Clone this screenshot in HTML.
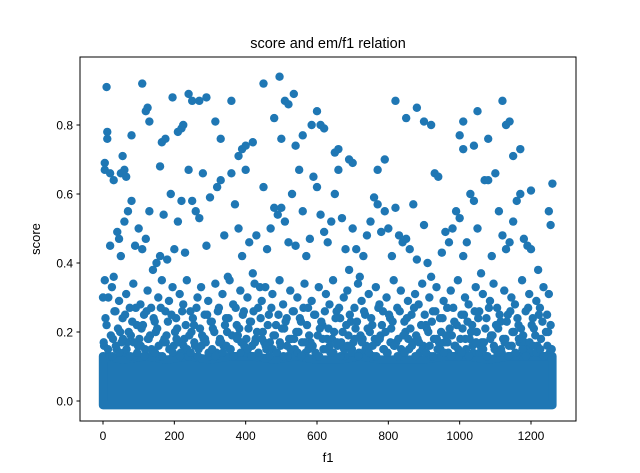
<!DOCTYPE html>
<html><head><meta charset="utf-8"><style>
html,body{margin:0;padding:0;background:#fff;}
svg{display:block;font-family:"Liberation Sans","DejaVu Sans",sans-serif;}
</style></head><body>
<svg id="chart" width="640" height="473">
<text x="328" y="48" text-anchor="middle" font-size="14.5">score and em/f1 relation</text>
<g id="band"></g>
<g id="pts"></g>
<rect x="80" y="57" width="496" height="364" fill="none" stroke="#000" stroke-width="1"/>
<g id="axes"></g>
<text x="328" y="462" text-anchor="middle" font-size="13">f1</text>
<text transform="translate(40,239) rotate(-90)" text-anchor="middle" font-size="13">score</text>
</svg>
<script>
const xTicks=[0,200,400,600,800,1000,1200];
const yTicks=[0.0,0.2,0.4,0.6,0.8];
const bandX=[0,60,120,180,240,300,360,420,480,540,600,660,720,780,840,900,960,1020,1080,1140,1200,1260];
const bandTop=[0.13,0.12,0.13,0.12,0.13,0.12,0.13,0.13,0.12,0.13,0.12,0.12,0.13,0.12,0.12,0.12,0.13,0.13,0.12,0.13,0.13,0.13];
const px=[5,5,10,12,12,20,30,50,55,60,65,80,110,120,125,130,160,165,175,195,210,220,225,240,250,270,290,315,330,360,380,390,400,420,450,480,495,500,510,520,535,540,560,585,600,610,620,650,660,690,700,770,790,820,850,880,900,920,1000,1010,1010,1040,1050,1080,1120,1130,1140,1150,1170,1200,1260,1250,1255,
5,15,20,30,40,45,50,60,70,80,90,100,110,120,130,140,150,160,170,180,190,200,210,220,230,240,250,260,270,280,290,300,320,330,340,350,360,370,380,390,400,410,420,430,440,450,460,470,480,490,500,510,520,530,540,550,560,570,580,590,600,610,620,630,640,650,660,670,680,690,700,710,720,730,740,750,760,770,780,790,800,810,820,830,840,850,860,870,880,900,910,920,930,940,950,960,970,980,990,1000,1010,1020,1030,1040,1050,1060,1070,1080,1090,1100,1110,1120,1130,1140,1150,1160,1170,1180,1190,1200,1220,1250,
0,10,25,35,45,55,65,75,85,95,105,115,125,135,145,155,165,175,185,195,205,215,225,235,245,255,265,275,285,295,305,315,325,335,345,355,365,375,385,395,405,415,425,435,445,455,465,475,485,495,505,515,525,535,545,555,565,575,585,595,605,615,625,635,645,655,665,675,685,695,705,715,725,735,745,755,765,775,785,795,805,815,825,835,845,855,865,875,885,895,905,915,925,935,945,955,965,975,985,995,1005,1015,1025,1035,1045,1055,1065,1075,1085,1095,1105,1115,1125,1135,1145,1155,1165,1175,1185,1195,1205,1215,1225,1235,1245,1255,
3,18,28,38,48,58,68,78,88,98,108,118,128,138,148,158,168,178,188,198,208,218,228,238,248,258,268,278,288,298,308,318,328,338,348,358,368,378,388,398,408,418,428,438,448,458,468,478,488,498,508,518,528,538,548,558,568,578,588,598,608,618,628,638,648,658,668,678,688,698,708,718,728,738,748,758,768,778,788,798,808,818,828,838,848,858,868,878,888,898,908,918,928,938,948,958,968,978,988,998,1008,1018,1028,1038,1048,1058,1068,1078,1088,1098,1108,1118,1128,1138,1148,1158,1168,1178,1188,1198,1208,1218,1228,1238,1248,1258,
7,22,32,42,52,62,72,82,92,102,112,122,132,142,152,162,172,182,192,202,212,222,232,242,252,262,272,282,292,302,312,322,332,342,352,362,372,382,392,402,412,422,432,442,452,462,472,482,492,502,512,522,532,542,552,562,572,582,592,602,612,622,632,642,652,662,672,682,692,702,712,722,732,742,752,762,772,782,792,802,812,822,832,842,852,862,872,882,892,902,912,922,932,942,952,962,972,982,992,1002,1012,1022,1032,1042,1052,1062,1072,1082,1092,1102,1112,1122,1132,1142,1152,1162,1172,1182,1192,1202,1212,1222,1232,1242,1252,
2,14,26,36,46,56,66,76,86,96,106,116,126,136,146,156,166,176,186,196,206,216,226,236,246,256,266,276,286,296,306,316,326,336,346,356,366,376,386,396,406,416,426,436,446,456,466,476,486,496,506,516,526,536,546,556,566,576,586,596,606,616,626,636,646,656,666,676,686,696,706,716,726,736,746,756,766,776,786,796,806,816,826,836,846,856,866,876,886,896,906,916,926,936,946,956,966,976,986,996,1006,1016,1026,1036,1046,1056,1066,1076,1086,1096,1106,1116,1126,1136,1146,1156,1166,1176,1186,1196,1206,1216,1226,1236,1246,1256];
const py=[0.69,0.67,0.91,0.78,0.76,0.66,0.64,0.66,0.71,0.67,0.65,0.77,0.92,0.84,0.85,0.81,0.68,0.75,0.76,0.88,0.78,0.79,0.8,0.89,0.87,0.87,0.88,0.81,0.76,0.87,0.71,0.73,0.74,0.75,0.92,0.82,0.94,0.76,0.87,0.86,0.89,0.74,0.77,0.8,0.84,0.8,0.79,0.72,0.73,0.7,0.69,0.67,0.7,0.87,0.82,0.85,0.81,0.8,0.77,0.81,0.73,0.74,0.84,0.76,0.87,0.8,0.81,0.71,0.73,0.61,0.63,0.55,0.51,
0.35,0.3,0.45,0.36,0.49,0.47,0.42,0.52,0.55,0.58,0.45,0.5,0.44,0.47,0.55,0.38,0.4,0.42,0.54,0.41,0.6,0.44,0.52,0.58,0.43,0.67,0.58,0.55,0.53,0.66,0.45,0.59,0.62,0.64,0.48,0.36,0.66,0.57,0.5,0.42,0.67,0.46,0.37,0.48,0.33,0.62,0.44,0.5,0.56,0.54,0.56,0.52,0.46,0.6,0.45,0.67,0.55,0.42,0.47,0.65,0.62,0.54,0.49,0.46,0.52,0.6,0.67,0.53,0.44,0.38,0.5,0.44,0.36,0.42,0.48,0.52,0.59,0.57,0.49,0.55,0.5,0.42,0.56,0.48,0.46,0.47,0.44,0.57,0.41,0.51,0.4,0.36,0.66,0.65,0.43,0.49,0.46,0.5,0.55,0.53,0.42,0.46,0.6,0.58,0.5,0.37,0.64,0.64,0.42,0.66,0.55,0.48,0.44,0.46,0.52,0.58,0.6,0.47,0.45,0.44,0.38,0.31,
0.3,0.22,0.33,0.26,0.29,0.24,0.31,0.27,0.34,0.22,0.28,0.25,0.32,0.27,0.23,0.3,0.35,0.26,0.29,0.33,0.24,0.31,0.28,0.35,0.26,0.22,0.3,0.33,0.25,0.29,0.23,0.34,0.27,0.31,0.24,0.35,0.28,0.22,0.32,0.26,0.3,0.23,0.34,0.27,0.29,0.33,0.25,0.31,0.22,0.35,0.28,0.24,0.32,0.26,0.3,0.23,0.34,0.27,0.29,0.25,0.33,0.22,0.31,0.28,0.35,0.26,0.24,0.3,0.32,0.23,0.27,0.34,0.29,0.25,0.31,0.22,0.33,0.28,0.26,0.3,0.24,0.35,0.27,0.32,0.23,0.29,0.25,0.31,0.28,0.34,0.22,0.3,0.26,0.33,0.24,0.29,0.27,0.32,0.23,0.35,0.25,0.3,0.28,0.22,0.33,0.26,0.31,0.24,0.29,0.34,0.27,0.23,0.32,0.25,0.3,0.28,0.22,0.35,0.26,0.31,0.24,0.29,0.27,0.33,0.25,0.22,
0.16,0.13,0.18,0.15,0.2,0.14,0.17,0.19,0.13,0.16,0.21,0.15,0.18,0.14,0.2,0.13,0.17,0.19,0.15,0.16,0.21,0.14,0.18,0.13,0.2,0.16,0.15,0.19,0.17,0.13,0.21,0.14,0.18,0.16,0.2,0.15,0.13,0.19,0.17,0.14,0.21,0.16,0.18,0.13,0.2,0.15,0.17,0.19,0.14,0.16,0.21,0.13,0.18,0.15,0.2,0.17,0.14,0.19,0.16,0.13,0.21,0.15,0.18,0.14,0.2,0.16,0.17,0.13,0.19,0.15,0.21,0.14,0.18,0.16,0.2,0.13,0.17,0.19,0.15,0.14,0.21,0.16,0.18,0.13,0.2,0.15,0.17,0.19,0.14,0.16,0.21,0.13,0.18,0.15,0.2,0.17,0.14,0.19,0.16,0.13,0.21,0.15,0.18,0.14,0.2,0.16,0.17,0.13,0.19,0.15,0.21,0.14,0.18,0.16,0.2,0.13,0.17,0.19,0.15,0.14,0.21,0.16,0.18,0.13,0.2,0.15,
0.24,0.19,0.26,0.21,0.17,0.25,0.2,0.23,0.27,0.18,0.22,0.26,0.19,0.24,0.21,0.27,0.18,0.23,0.25,0.2,0.17,0.26,0.22,0.19,0.24,0.27,0.21,0.18,0.25,0.23,0.2,0.26,0.17,0.22,0.24,0.19,0.27,0.21,0.25,0.18,0.23,0.26,0.2,0.24,0.17,0.22,0.27,0.19,0.25,0.21,0.23,0.18,0.26,0.2,0.24,0.27,0.22,0.17,0.25,0.19,0.23,0.26,0.21,0.18,0.24,0.27,0.2,0.22,0.25,0.17,0.23,0.19,0.26,0.21,0.24,0.18,0.27,0.22,0.2,0.25,0.23,0.17,0.26,0.19,0.24,0.21,0.27,0.18,0.22,0.25,0.2,0.23,0.26,0.17,0.24,0.19,0.21,0.27,0.22,0.18,0.25,0.23,0.2,0.26,0.24,0.17,0.21,0.27,0.19,0.22,0.25,0.18,0.23,0.26,0.2,0.24,0.21,0.17,0.27,0.22,0.19,0.25,0.23,0.2,
0.14,0.17,0.15,0.13,0.16,0.14,0.18,0.15,0.13,0.17,0.14,0.16,0.13,0.18,0.15,0.14,0.16,0.13,0.17,0.15,0.14,0.18,0.13,0.16,0.15,0.14,0.17,0.13,0.16,0.18,0.14,0.15,0.13,0.17,0.14,0.16,0.15,0.13,0.18,0.14,0.16,0.15,0.13,0.17,0.14,0.18,0.16,0.13,0.15,0.14,0.17,0.13,0.16,0.15,0.18,0.14,0.13,0.17,0.15,0.16,0.14,0.13,0.18,0.15,0.16,0.14,0.17,0.13,0.15,0.16,0.14,0.18,0.13,0.17,0.15,0.14,0.16,0.13,0.18,0.15,0.14,0.17,0.16,0.13,0.15,0.14,0.18,0.16,0.13,0.17,0.15,0.14,0.16,0.13,0.18,0.15,0.14,0.17,0.13,0.16,0.15,0.14,0.18,0.13,0.16,0.17,0.14,0.15,0.13,0.18,0.16,0.14,0.15,0.17,0.13,0.16,0.14,0.18,0.15,0.13,0.17,0.16,0.14,0.15,0.13,0.16,0.15];
const NS='http://www.w3.org/2000/svg';
const X=v=>103+(v)*428/1200;
const Y=v=>401-v*345;
const R=4.2,C='#1f77b4';
const band=document.getElementById('band');
let d='M'+X(bandX[0])+','+(Y(0)+R);
bandX.forEach((x,i)=>{d+=' L'+X(x)+','+Y(bandTop[i]);});
d+=' L'+X(bandX[bandX.length-1])+','+(Y(0)+R)+' Z';
const bp=document.createElementNS(NS,'path');
bp.setAttribute('d',d);bp.setAttribute('fill',C);bp.setAttribute('stroke',C);bp.setAttribute('stroke-width',2*R);bp.setAttribute('stroke-linejoin','round');


band.appendChild(bp);
const g=document.getElementById('pts');
const n=Math.min(px.length,py.length);
for(let i=0;i<n;i++){
 const c=document.createElementNS(NS,'circle');
 c.setAttribute('cx',X(px[i]));c.setAttribute('cy',Y(py[i]));c.setAttribute('r',R);c.setAttribute('fill',C);
 
 
 g.appendChild(c);
}
const ax=document.getElementById('axes');
xTicks.forEach(t=>{
 const l=document.createElementNS(NS,'line');
 l.setAttribute('x1',X(t));l.setAttribute('x2',X(t));l.setAttribute('y1',421);l.setAttribute('y2',424.5);l.setAttribute('stroke','#000');
 
 
 ax.appendChild(l);
 const tx=document.createElementNS(NS,'text');
 tx.setAttribute('x',X(t));tx.setAttribute('y',440);tx.setAttribute('text-anchor','middle');tx.setAttribute('font-size','12');tx.textContent=t;
 
 
 ax.appendChild(tx);
});
yTicks.forEach(t=>{
 const l=document.createElementNS(NS,'line');
 l.setAttribute('x1',76.5);l.setAttribute('x2',80);l.setAttribute('y1',Y(t));l.setAttribute('y2',Y(t));l.setAttribute('stroke','#000');
 
 
 ax.appendChild(l);
 const tx=document.createElementNS(NS,'text');
 tx.setAttribute('x',73);tx.setAttribute('y',Y(t)+4.5);tx.setAttribute('text-anchor','end');tx.setAttribute('font-size','12');tx.textContent=t.toFixed(1);
 
 
 ax.appendChild(tx);
});
</script>
</body></html>
